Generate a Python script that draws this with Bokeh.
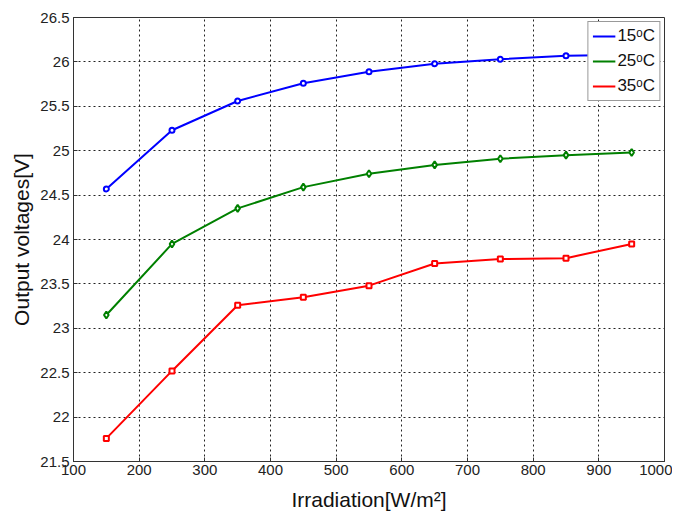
from bokeh.plotting import figure
from bokeh.models import Range1d, FixedTicker, Legend, LegendItem
from bokeh.embed import file_html
from bokeh.resources import INLINE

irradiation = [150, 250, 350, 450, 550, 650, 750, 850, 950]
v15 = [24.57, 25.23, 25.56, 25.76, 25.89, 25.98, 26.03, 26.07, 26.08]
v25 = [23.15, 23.95, 24.35, 24.59, 24.74, 24.84, 24.91, 24.95, 24.98]
v35 = [21.76, 22.52, 23.26, 23.35, 23.48, 23.73, 23.78, 23.79, 23.95]
labels = ["15\u1d52C", "25\u1d52C", "35\u1d52C"]
x_ticks = [100, 200, 300, 400, 500, 600, 700, 800, 900, 1000]
y_ticks = [21.5, 22, 22.5, 23, 23.5, 24, 24.5, 25, 25.5, 26, 26.5]

FONT = "Liberation Sans"

p = figure(width=672, height=513, output_backend="svg", toolbar_location=None,
           x_range=Range1d(100, 1000), y_range=Range1d(21.5, 26.5),
           min_border_left=73, min_border_right=8, min_border_top=17, min_border_bottom=50)

p.outline_line_color = "#333333"
p.outline_line_width = 1
p.background_fill_color = "white"
p.border_fill_color = "white"

for ax in (p.xaxis[0], p.yaxis[0]):
    ax.major_tick_in = 4
    ax.major_tick_out = 0
    ax.minor_tick_in = 0
    ax.minor_tick_out = 0
    ax.axis_line_color = "#333333"
    ax.major_tick_line_color = "#333333"
    ax.major_label_text_font = FONT
    ax.major_label_text_font_size = "15px"
    ax.major_label_text_color = "#222222"
    ax.axis_label_text_font = FONT
    ax.axis_label_text_font_style = "normal"
    ax.axis_label_text_font_size = "21px"
    ax.axis_label_text_color = "#111111"

p.xaxis.ticker = FixedTicker(ticks=x_ticks)
p.yaxis.ticker = FixedTicker(ticks=y_ticks)
p.xaxis.axis_label = "Irradiation[W/m\u00b2]"
p.yaxis.axis_label = "Output voltages[V]"
p.xaxis.major_label_standoff = 3
p.yaxis.major_label_standoff = 4
p.xaxis.axis_label_standoff = 10
p.yaxis.axis_label_standoff = 4

p.xgrid.ticker = FixedTicker(ticks=x_ticks[1:-1])
p.ygrid.ticker = FixedTicker(ticks=y_ticks[1:-1])
for g in (p.xgrid[0], p.ygrid[0]):
    g.grid_line_color = "#222222"
    g.grid_line_dash = "2 3"
    g.grid_line_width = 1

l1 = p.line(irradiation, v15, color="#0000ff", line_width=2)
m1 = p.scatter(irradiation, v15, marker="circle", size=5, line_color="#0000ff",
               fill_color="white", line_width=2)
l2 = p.line(irradiation, v25, color="#008000", line_width=2)
m2 = p.scatter(irradiation, v25, marker="diamond", size=7, line_color="#008000",
               fill_color="white", line_width=2)
l3 = p.line(irradiation, v35, color="#ff0000", line_width=2)
m3 = p.scatter(irradiation, v35, marker="square", size=5, line_color="#ff0000",
               fill_color="white", line_width=2)

leg_m1 = p.scatter([], [], marker="circle", size=5, color="#0000ff")
leg_m2 = p.scatter([], [], marker="diamond", size=8, color="#008000")
leg_m3 = p.scatter([], [], marker="square", size=6, color="#ff0000")

legend = Legend(items=[
    LegendItem(label=labels[0], renderers=[l1, leg_m1]),
    LegendItem(label=labels[1], renderers=[l2, leg_m2]),
    LegendItem(label=labels[2], renderers=[l3, leg_m3]),
], location="top_right")
legend.label_text_font = FONT
legend.label_text_font_size = "17px"
legend.label_text_color = "#111111"
legend.border_line_color = "#333333"
legend.border_line_width = 1
legend.background_fill_alpha = 1
legend.margin = 4
legend.padding = 4
legend.spacing = 5
legend.glyph_width = 23
legend.label_standoff = 2
p.add_layout(legend)

open("out.html", "w").write(file_html(p, INLINE))
